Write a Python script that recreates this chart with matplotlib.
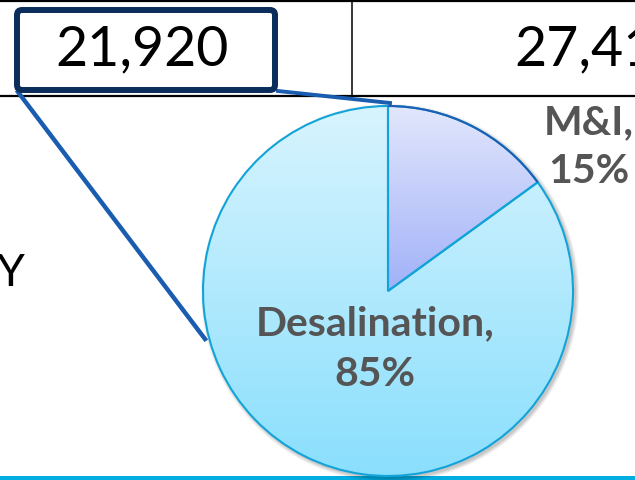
import numpy as np
import matplotlib.pyplot as plt
from matplotlib.colors import LinearSegmentedColormap
from matplotlib.patches import FancyBboxPatch, Arc, Circle

# data
categories = ["M&I", "Desalination"]
shares = [15, 85]
highlight_value = "21,920"
next_value = "27,410"
row_label = "Y"

W, H = 635, 481
fig = plt.figure(figsize=(W / 100, H / 100), dpi=100)
ax = fig.add_axes([0, 0, 1, 1])
ax.set_xlim(0, W)
ax.set_ylim(0, H)
ax.axis('off')


def py(y):
    # screen pixel row -> data y
    return H - y


FONT = ['Lato', 'DejaVu Sans']

# table grid
ax.plot([0, W], [py(2), py(2)], color='black', lw=1.6, solid_capstyle='butt')
ax.plot([0, W], [py(97), py(97)], color='black', lw=1.6, solid_capstyle='butt')
ax.plot([352, 352], [py(0), py(97)], color='black', lw=1.1)

ax.text(142, py(50), highlight_value, ha='center', va='center', fontsize=40,
        family=FONT, color='black')
ax.text(514, py(50), next_value, ha='left', va='center', fontsize=40,
        family=FONT, color='black')
ax.text(-3, py(273), row_label, ha='left', va='center', fontsize=32,
        family=FONT, color='black')

# highlight box around the value
box = FancyBboxPatch((17, py(91)), 258, 80, boxstyle="round,pad=0,rounding_size=5",
                     ec='#0b2d5b', fc='none', lw=4.3, zorder=4)
ax.add_patch(box)

# connectors from box to pie
ax.plot([18, 205], [py(93), py(340)], color='#1a5cb0', lw=3.2, zorder=2)
ax.plot([278, 390], [py(92), py(104)], color='#1a5cb0', lw=2.8, zorder=2)

# bottom rule
ax.fill_between([0, W], py(481), py(477), color='#00ade0', lw=0, zorder=1)

cx, cy, r = 388, py(292), 185

# soft shadow
for i, a in enumerate([0.05, 0.05, 0.06, 0.07]):
    ax.add_patch(Circle((cx + 2, cy - 2), r + 4 - i, fc='black', ec='none',
                        alpha=a, zorder=2.5))

wedges, _ = ax.pie(shares, startangle=90, counterclock=False, center=(cx, cy),
                   radius=r, frame=True,
                   wedgeprops=dict(fc='none', ec='#12a3d8', lw=1.5, zorder=5))
ax.set_aspect('auto')

grads = {
    "Desalination": ['#d8f4fe', '#8adffd'],
    "M&I": ['#e2e7fc', '#a1b1f8'],
}
for w, name in zip(wedges, categories):
    cmap = LinearSegmentedColormap.from_list(name, grads[name])
    if name == "M&I":
        top, bot = cy + r, cy
    else:
        top, bot = cy + r, cy - r
    g = np.linspace(0, 1, 256).reshape(-1, 1)
    im = ax.imshow(g, cmap=cmap, aspect='auto', extent=(cx - r, cx + r, bot, top),
                   origin='upper', zorder=3, interpolation='bilinear')
    im.set_clip_path(w)

# darker outer edge on the small slice
mi = wedges[0]
ax.add_patch(Arc((cx, cy), 2 * r, 2 * r, theta1=mi.theta1, theta2=mi.theta2,
                 color='#1d5fb2', lw=1.5, zorder=6))

ax.set_xlim(0, W)
ax.set_ylim(0, H)
ax.axis('off')

lab_color = '#555555'
ax.text(375, py(349), f"{categories[1]},\n{shares[1]}%", ha='center', va='center',
        fontsize=29.5, fontweight='bold', family=FONT, color=lab_color,
        linespacing=1.45, zorder=7)
ax.text(589, py(147), f"{categories[0]},\n{shares[0]}%", ha='center', va='center',
        fontsize=29.5, fontweight='bold', family=FONT, color=lab_color,
        linespacing=1.38, zorder=7)

fig.savefig('out.png', dpi=100)
